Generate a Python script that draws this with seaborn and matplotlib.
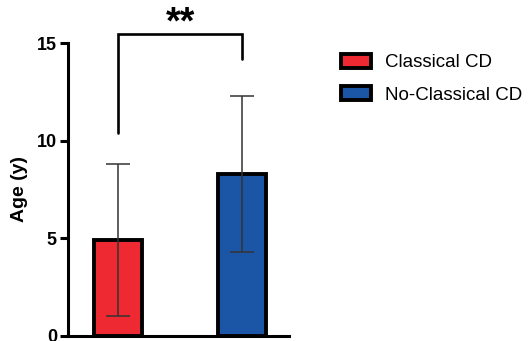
import matplotlib
matplotlib.use("Agg")
import matplotlib.pyplot as plt
import seaborn as sns
import pandas as pd
from matplotlib.patches import Patch

groups = ["Classical CD", "No-Classical CD"]
means = [4.9, 8.3]
sds = [3.9, 4.0]
colors = ["#EE2931", "#1A56A5"]
yticks = [0, 5, 10, 15]
sig_label = "**"

sns.set_theme(style="ticks")
plt.rcParams["font.family"] = ["Liberation Sans", "DejaVu Sans"]
plt.rcParams["text.color"] = "black"
plt.rcParams["axes.labelcolor"] = "black"
plt.rcParams["ytick.color"] = "black"
plt.rcParams["axes.edgecolor"] = "black"

df = pd.DataFrame({"group": groups, "age": means})

fig = plt.figure(figsize=(5.29, 3.41), dpi=100)
ax = fig.add_axes([68/529, 5/341, (289-68)/529, (336-43)/341])

sns.barplot(data=df, x="group", y="age", hue="group", palette=colors,
            saturation=1, errorbar=None, width=0.38, edgecolor="black",
            linewidth=2.8, legend=False, ax=ax, zorder=2)
ax.errorbar(range(len(groups)), means, yerr=sds, fmt="none", ecolor="#333333",
            elinewidth=1.1, capsize=8.3, capthick=1.1, zorder=3)

ax.set_xlim(-0.403, 1.379)
ax.set_ylim(0, 15)
ax.set_yticks(yticks)
ax.set_yticklabels([str(t) for t in yticks], fontsize=13, fontweight="bold")
ax.set_xticks([])
ax.set_xlabel("")
ax.set_ylabel("Age (y)", fontsize=14, fontweight="bold", labelpad=6)
for s in ["top", "right"]:
    ax.spines[s].set_visible(False)
for s in ["left", "bottom"]:
    ax.spines[s].set_linewidth(2.2)
ax.tick_params(axis="y", length=6, width=2.2, pad=2)

# significance bracket
ax.plot([0, 0, 1, 1], [10.4, 15.46, 15.46, 14.2], color="black", lw=1.9,
        clip_on=False, solid_joinstyle="miter")
ax.text(0.5, 15.08, sig_label, ha="center", va="bottom", fontsize=27,
        fontweight="bold", clip_on=False)

handles = [Patch(facecolor=c, edgecolor="black", linewidth=2.8) for c in colors]
fig.legend(handles, groups, loc="upper left", bbox_to_anchor=(341/529, 1-54/341),
           frameon=False, fontsize=13.5, handlelength=1.6, handleheight=0.75,
           handletextpad=0.75, labelspacing=0.8, borderaxespad=0, borderpad=0)

fig.savefig("out.png", dpi=100)
